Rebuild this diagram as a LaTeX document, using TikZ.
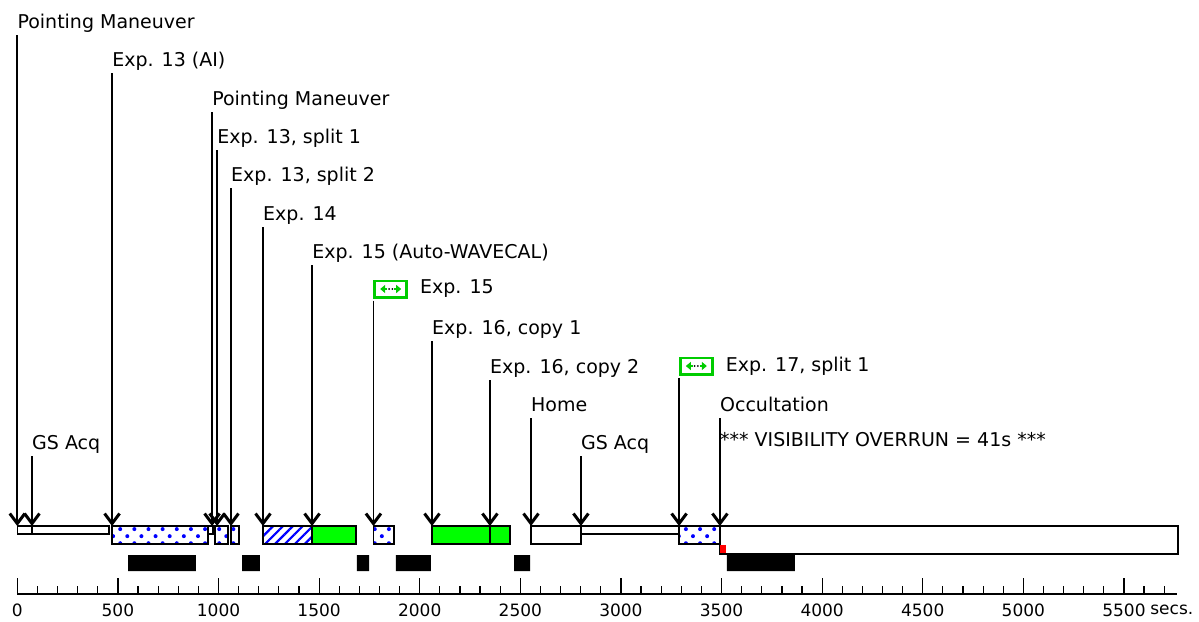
\documentclass[tikz,border=0pt]{standalone}
\usepackage{fontspec}
\setmainfont{DejaVu Sans}
\usetikzlibrary{arrows.meta, patterns.meta, positioning}
\definecolor{limegreen}{RGB}{0,255,0}
\definecolor{boxgreen}{RGB}{0,204,0}
\tikzset{
  lbl/.style={anchor=base west, inner sep=0pt, font=\fontsize{19}{22}\selectfont},
  ticklbl/.style={inner sep=0pt, font=\fontsize{17}{20}\selectfont},
  evt/.style={line width=1.7pt, -{Straight Barb[length=10pt,width=15pt,line width=3pt]}},
  bar/.style={draw, line width=1.4pt},
  dotbar/.style={bar, pattern={Dots[angle=45,distance=10pt,radius=2pt]}, pattern color=blue},
  hatchbar/.style={bar, pattern={Lines[angle=45,distance=7pt,line width=2.2pt]}, pattern color=blue},
  greenbar/.style={bar, fill=limegreen},
  icon/.style={draw=boxgreen, line width=2.5pt, minimum width=32pt, minimum height=16.5pt, inner sep=0pt,
    path picture={
      \coordinate (c) at (path picture bounding box.center);
      \draw[line width=2pt, -{Triangle[length=5pt,width=8pt]}] ([xshift=3.5pt]c) -- ([xshift=10.5pt]c);
      \draw[line width=2pt, -{Triangle[length=5pt,width=8pt]}] ([xshift=-3.5pt]c) -- ([xshift=-10.5pt]c);
      \fill ([xshift=-1.6pt]c) circle (1pt) ([xshift=1.6pt]c) circle (1pt);
    }}
}

\begin{document}
\begin{tikzpicture}[x=0.2012pt, y=-1pt]
\useasboundingbox (-86,0) rectangle (5873,621);
\coordinate (bar) at (0,526);
% labels
\node[lbl] (pm1) at (0,28) {Pointing Maneuver};
\node[lbl] (e13) at (471,66) {Exp. 13 (AI)};
\node[lbl] (pm2) at (968,105) {Pointing Maneuver};
\node[lbl] (s1) at (993,143) {Exp. 13, split 1};
\node[lbl] (s2) at (1062,181) {Exp. 13, split 2};
\node[lbl] (e14) at (1221,220) {Exp. 14};
\node[lbl] (wave) at (1465,258) {Exp. 15 (Auto-WAVECAL)};
\node[icon, anchor=west] (ic1) at (1770,289) {};
\node[lbl, right=12pt of ic1] (e15) {Exp. 15};
\node[lbl] (cp1) at (2061,334) {Exp. 16, copy 1};
\node[lbl] (cp2) at (2349,373) {Exp. 16, copy 2};
\node[icon, anchor=west] (ic2) at (3289,366) {};
\node[lbl, right=12pt of ic2] (e17) {Exp. 17, split 1};
\node[lbl] (home) at (2553,411) {Home};
\node[lbl] (occ) at (3492,411) {Occultation};
\node[lbl] (gs1) at (73,449) {GS Acq};
\node[lbl] (gs2) at (2801,449) {GS Acq};
\node[lbl] (vis) at (3492,446) {*** VISIBILITY OVERRUN = 41s ***};
% event arrows
\foreach \n in {pm1, e13, pm2, s1, s2, e14, wave, cp1, cp2, home, occ, gs1, gs2}
  \draw[evt] ([yshift=-7pt]\n.base west) -- (\n.base west |- bar);
\foreach \n in {ic1, ic2}
  \draw[evt] ([yshift=-2pt]\n.south west) -- (\n.south west |- bar);
% bars
\draw[bar]
(0,526) rectangle (73,534)
(73,526) rectangle (456,534)
(948,526) rectangle (973,534)
(2801,526) rectangle (3289,534);
\draw[bar] (3492,526) rectangle (5769,554);
\draw[bar] (2553,526) rectangle (2801,544);
\draw[dotbar] (471,526) rectangle (948,544);
\draw[dotbar] (983,526) rectangle (1047,544);
\draw[dotbar] (1062,526) rectangle (1102,544);
\draw[dotbar] (1770,526) rectangle (1872,544);
\draw[dotbar] (3289,526) rectangle (3492,544);
\draw[hatchbar] (1221,526) rectangle (1465,544);
\draw[greenbar] (1465,526) rectangle (1683,544);
\draw[greenbar] (2061,526) rectangle (2349,544);
\draw[greenbar] (2349,526) rectangle (2449,544);
\fill[red] (3492,545) rectangle (3522,553);
% black blocks
\fill
(551,555) rectangle (888,571)
(1117,555) rectangle (1206,571)
(1688,555) rectangle (1748,571)
(1882,555) rectangle (2056,571)
(2469,555) rectangle (2549,571)
(3527,555) rectangle (3865,571);
% time axis
\draw[line width=1.4pt] (0,594) -- (5765,594);
\foreach \t in {0,100,...,5700}
  \draw[line width=1.2pt] (\t,594) -- (\t,586);
\foreach \t in {0,500,...,5500}
  \draw[line width=1.2pt] (\t,594) -- (\t,578)
  node[ticklbl] (lab\t) at (\t,610) {\t};
\node[ticklbl, right=4pt of lab5500] (secs) {secs.};
\end{tikzpicture}
\end{document}
